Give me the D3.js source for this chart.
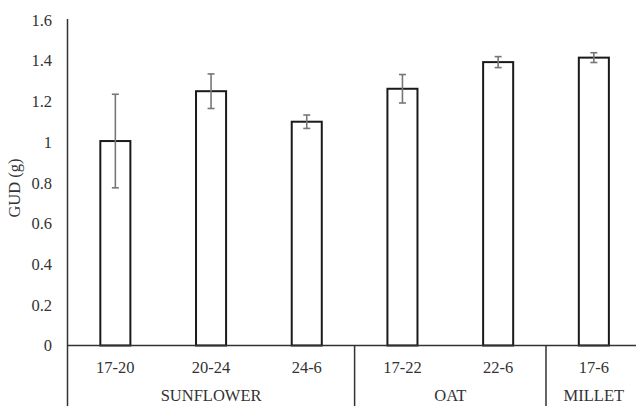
<!DOCTYPE html>
<html>
<head>
<meta charset="utf-8">
<script src="https://cdn.jsdelivr.net/npm/d3@7/dist/d3.min.js"></script>
<style>
  body { margin: 0; background: #fff; }
  svg { display: block; font-family: "Liberation Serif", "Times New Roman", serif; }
</style>
</head>
<body>
<div id="chart"></div>
<script>
(function () {
  'use strict';

  var categories = ['17-20', '20-24', '24-6', '17-22', '22-6', '17-6'];
  var gud = [1.005, 1.25, 1.10, 1.262, 1.393, 1.415];
  var errs = [0.23, 0.085, 0.033, 0.07, 0.027, 0.024];
  var groupNames = ['SUNFLOWER', 'OAT', 'MILLET'];
  var groupSizes = [3, 2, 1];
  var yTicks = [0, 0.2, 0.4, 0.6, 0.8, 1, 1.2, 1.4, 1.6];

  var width = 636, height = 406;
  var left = 67.5, bottom = 345.5, top = 20;
  var step = 95.7;
  var fontSize = '16.5px';
  var textColor = '#333';

  var svg = d3.select('#chart').append('svg')
        .attr('width', width)
        .attr('height', height);

  var x = d3.scaleBand()
        .domain(categories)
        .range([left, left + step * categories.length])
        .paddingInner(0.686)
        .paddingOuter(0.343);

  var y = d3.scaleLinear()
        .domain([0, 1.6])
        .range([bottom, top]);

  // y tick labels
  svg.append('g').selectAll('text')
        .data(yTicks)
        .enter().append('text')
        .attr('x', 52)
        .attr('y', function(d) { return y(d); })
        .attr('dy', '0.35em')
        .attr('text-anchor', 'end')
        .attr('font-size', fontSize)
        .attr('fill', textColor)
        .text(function(d) { return d3.format('')(d); });

  svg.append('text')
        .attr('transform', 'translate(20,' + 188 + ') rotate(-90)')
        .attr('text-anchor', 'middle')
        .attr('font-size', fontSize)
        .attr('fill', textColor)
        .text('GUD (g)');

  // bars
  svg.append('g').selectAll('rect')
        .data(categories)
        .enter().append('rect')
        .attr('x', function(d) { return x(d); })
        .attr('y', function(d, i) { return y(gud[i]); })
        .attr('width', x.bandwidth())
        .attr('height', function(d, i) { return bottom - y(gud[i]); })
        .attr('fill', '#fff')
        .attr('stroke', '#1a1a1a')
        .attr('stroke-width', 2);

  // error bars
  var eb = svg.append('g')
        .attr('stroke', '#777')
        .attr('stroke-width', 1.6)
        .selectAll('g')
        .data(categories)
        .enter().append('g');

  eb.append('line')
        .attr('x1', function(d) { return x(d) + x.bandwidth() / 2; })
        .attr('x2', function(d) { return x(d) + x.bandwidth() / 2; })
        .attr('y1', function(d, i) { return y(gud[i] + errs[i]); })
        .attr('y2', function(d, i) { return y(gud[i] - errs[i]); });

  [1, -1].forEach(function(s) {
        eb.append('line')
              .attr('x1', function(d) { return x(d) + x.bandwidth() / 2 - 3.5; })
              .attr('x2', function(d) { return x(d) + x.bandwidth() / 2 + 3.5; })
              .attr('y1', function(d, i) { return y(gud[i] + s * errs[i]); })
              .attr('y2', function(d, i) { return y(gud[i] + s * errs[i]); });
  });

  // axes lines
  var axisColor = '#333';
  svg.append('line')
        .attr('x1', left).attr('x2', left)
        .attr('y1', top - 1).attr('y2', height)
        .attr('stroke', axisColor).attr('stroke-width', 1.5);

  svg.append('line')
        .attr('x1', left).attr('x2', width)
        .attr('y1', bottom).attr('y2', bottom)
        .attr('stroke', axisColor).attr('stroke-width', 1.5);

  // category labels
  svg.append('g').selectAll('text')
        .data(categories)
        .enter().append('text')
        .attr('x', function(d) { return x(d) + x.bandwidth() / 2; })
        .attr('y', 372.5)
        .attr('text-anchor', 'middle')
        .attr('font-size', fontSize)
        .attr('fill', textColor)
        .text(function(d) { return d; });

  // group labels and separators
  var start = 0;
  var groups = groupNames.map(function(name, i) {
        var g = { name: name, from: start, to: start + groupSizes[i] };
        start += groupSizes[i];
        return g;
  });
  var edge = function(idx) { return x.range()[0] + idx * x.step(); };

  svg.append('g').selectAll('line')
        .data(groups.slice(0, -1))
        .enter().append('line')
        .attr('x1', function(d) { return edge(d.to); })
        .attr('x2', function(d) { return edge(d.to); })
        .attr('y1', bottom)
        .attr('y2', height)
        .attr('stroke', axisColor)
        .attr('stroke-width', 1.5);

  svg.append('g').selectAll('text')
        .data(groups)
        .enter().append('text')
        .attr('x', function(d) { return (edge(d.from) + edge(d.to)) / 2; })
        .attr('y', 401)
        .attr('text-anchor', 'middle')
        .attr('font-size', fontSize)
        .attr('fill', textColor)
        .text(function(d) { return d.name; });
})();
</script>
</body>
</html>
